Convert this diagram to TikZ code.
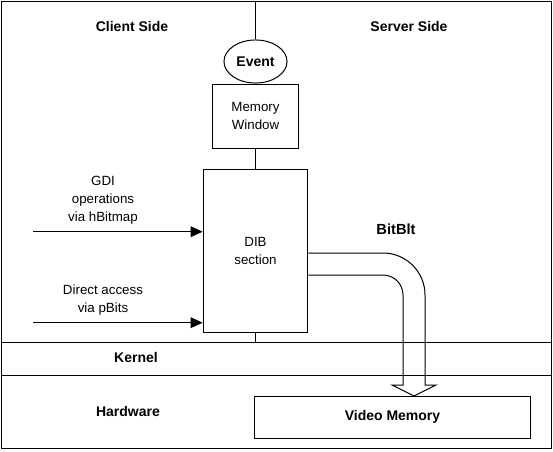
\documentclass[tikz,border=0pt]{standalone}
\usepackage{fontspec}
\setmainfont{Liberation Sans}
\usetikzlibrary{arrows.meta,shapes.geometric}

\begin{document}
\begin{tikzpicture}[x=0.75pt,y=-0.75pt,line width=0.75pt,
  >={Triangle[length=9pt,width=8pt]},
  heading/.style={font=\bfseries\fontsize{10.5}{12}\selectfont},
  notetext/.style={align=center,font=\fontsize{10}{13.5}\selectfont},
  plainbox/.style={draw,inner sep=0pt,align=center,font=\fontsize{10}{13.5}\selectfont}]
  \useasboundingbox (0,0) rectangle (553,451);

  % Marco y capas
  \draw (1,1) rectangle (551,448);
  \coordinate (kerW) at (1,342.5);
  \coordinate (kerE) at (551,342.5);
  \coordinate (hwW) at (1,375.5);
  \coordinate (hwE) at (551,375.5);
  \draw (kerW) -- (kerE);
  \draw (hwW) -- (hwE);
  \node[heading] (client) at (132,26) {Client Side};
  \node[heading] (server) at (409,26) {Server Side};
  \node[heading] (kernel) at (136,357) {Kernel};
  \node[heading] (hardware) at (128,411) {Hardware};

  % Objetos
  \node[draw,ellipse,heading,inner sep=0pt,minimum width=47.3pt,minimum height=32.3pt] (event) at (255.5,61.5) {Event};
  \node[plainbox,minimum width=64pt,minimum height=48pt] (memwin) at (255.5,116.3) {Memory\\Window};
  \node[plainbox,minimum width=78.5pt,minimum height=122.3pt] (dib) at (255.5,250.8) {DIB\\section};
  \node[plainbox,heading,minimum width=206.3pt,minimum height=31.5pt] (video) at (392.5,417) {Video Memory};

  % Divisoria
  \coordinate (divtop) at (255.5,1);
  \coordinate (divbot) at (255.5,342.5);
  \draw (divtop) -- (event) -- (memwin) -- (dib) -- (divbot);

  % Acceso del cliente
  \node[notetext] (gdi) at (103,200) {GDI\\operations\\via hBitmap};
  \node[notetext] (direct) at (103,300.5) {Direct access\\via pBits};
  \coordinate (gdiW) at (33,231.7);
  \coordinate (dirW) at (33,322.7);
  \draw[->] (gdiW) -- (gdiW -| dib.west);
  \draw[->] (dirW) -- (dirW -| dib.west);

  % BitBlt
  \node[heading,font=\bfseries\fontsize{11}{12}\selectfont] (bitblt) at (396,229) {BitBlt};
  \path (dib.east) ++(0,2.2) coordinate (bbo) ++(0,22) coordinate (bbi);
  \coordinate (bbtip) at (414,396);
  \draw (bbo) -- (383,253) arc[start angle=-90,end angle=0,radius=42] -- (425,385) -- (436,385)
    -- (bbtip) -- (392,385) -- (403,385) -- (403,295) arc[start angle=0,end angle=-90,radius=20] -- (bbi);
\end{tikzpicture}
\end{document}
